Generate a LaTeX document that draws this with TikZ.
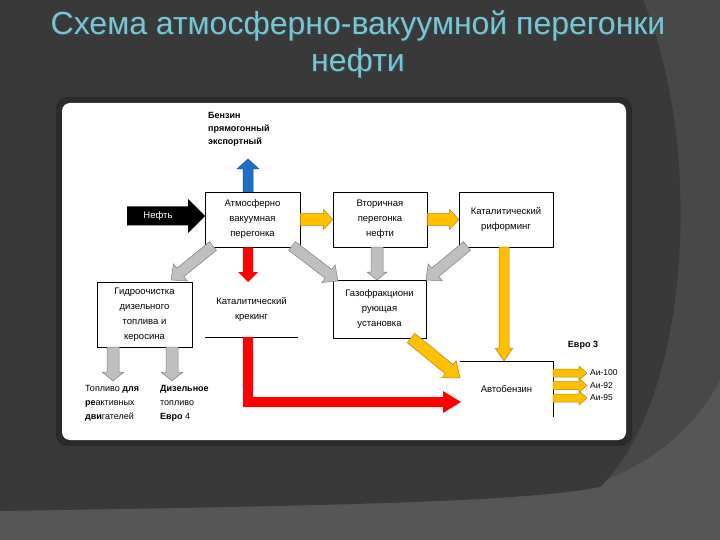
\documentclass[tikz,border=0pt]{standalone}
\usepackage{fontspec}
\setmainfont{Liberation Sans}
\usetikzlibrary{calc}
\definecolor{bgdark}{HTML}{393939}
\definecolor{bglight}{HTML}{484848}
\definecolor{bglight2}{HTML}{565656}
\definecolor{frame}{HTML}{2A2A2A}
\definecolor{titlec}{HTML}{7EC3D0}
\definecolor{titled}{HTML}{2C4F57}
\definecolor{yel}{HTML}{FFC000}
\definecolor{yeld}{HTML}{B8860B}
\definecolor{gry}{HTML}{BFBFBF}
\definecolor{gryd}{HTML}{808080}
\definecolor{blu}{HTML}{1F6FC6}
\definecolor{blud}{HTML}{174E8C}
\definecolor{redc}{HTML}{FF0000}
% block arrow: #1 style, #2 start, #3 end, #4 shaft half width, #5 head half width, #6 head length
\newcommand\blockarrow[6]{%
  \coordinate (bahd) at ($(#3)!#6!(#2)$);
  \path[#1] ($(#2)!#4!90:(#3)$) -- ($(bahd)!#4!90:(#3)$) -- ($(bahd)!#5!90:(#3)$) -- (#3)
    -- ($(bahd)!#5!-90:(#3)$) -- ($(bahd)!#4!-90:(#3)$) -- ($(#2)!#4!-90:(#3)$) -- cycle;
}
\tikzset{
  boxn/.style={draw=black, line width=0.6pt, fill=white, align=center, inner sep=0pt,
    font=\fontsize{9.5}{15}\selectfont},
  plainn/.style={align=center, inner sep=0pt, font=\fontsize{9.5}{15}\selectfont},
  labn/.style={align=left, inner sep=0pt, font=\fontsize{9}{14}\selectfont},
  yarrow/.style={fill=yel, draw=yeld, line width=0.5pt},
  garrow/.style={fill=gry, draw=gryd, line width=0.5pt},
  barrowc/.style={fill=blu, draw=blud, line width=0.5pt},
  rarrow/.style={fill=redc},
  karrow/.style={fill=black},
  titlen/.style={font=\fontsize{32}{37}\selectfont, align=center, inner sep=0pt},
}
\begin{document}
\begin{tikzpicture}[x=1pt,y=-1pt]
% background
\fill[bglight] (0,0) rectangle (720,540);
\fill[bglight2] (0,540) -- (0,505) .. controls (250,500) and (520,500) .. (600,482)
  .. controls (660,460) and (700,420) .. (720,380) -- (720,540) -- cycle;
\fill[bgdark] (0,0) -- (643,0) .. controls (705,150) and (690,400) .. (600,487)
  .. controls (520,503) and (300,506) .. (0,511) -- cycle;
\useasboundingbox (0,0) rectangle (720,540);
% title
\node[titlen, text=titled] at (359.2,45.2) {Схема атмосферно-вакуумной перегонки\\нефти};
\node[titlen, text=titlec] (title) at (358,44) {Схема атмосферно-вакуумной перегонки\\нефти};
% panel
\fill[frame, rounded corners=11pt] (56,97) rectangle (632,446);
\fill[white, rounded corners=8pt] (62,103) rectangle (626,440);

% boxes
\node[boxn, minimum width=95pt, minimum height=55pt] (atm) at (252.5,219.5) {Атмосферно\\вакуумная\\перегонка};
\node[boxn, minimum width=94pt, minimum height=55pt] (vtor) at (380,219.5) {Вторичная\\перегонка\\нефти};
\node[boxn, minimum width=94pt, minimum height=55pt] (rif) at (506,219.5) {Каталитический\\риформинг};
\node[boxn, minimum width=95pt, minimum height=65pt] (gid) at (144.5,314.5) {Гидроочистка\\дизельного\\топлива и\\керосина};
\node[plainn, minimum width=93pt, minimum height=55pt] (kk) at (251.5,309.5) {Каталитический\\крекинг};
\draw[line width=0.6pt] (kk.south west) -- (kk.south east);
\node[boxn, minimum width=93pt, minimum height=58pt] (gaz) at (379.5,309) {Газофракциони\\рующая\\установка};
\node[plainn, minimum width=93pt, minimum height=56pt] (avto) at (506.5,389) {Автобензин};
\draw[line width=0.6pt] (avto.north west) -- (avto.north east) -- (avto.south east);

% labels
\node[labn, font=\bfseries\fontsize{9}{13}\selectfont, anchor=north west] (benz) at (208,112) {Бензин\\прямогонный\\экспортный};
\node[labn, anchor=north west] (jet) at (85,385) {Топливо \textbf{для}\\\textbf{ре}активных\\\textbf{дви}гателей};
\node[labn, anchor=north west] (dies) at (160,385) {\textbf{Дизельное}\\топливо\\\textbf{Евро} 4};
\node[labn, font=\bfseries\fontsize{9}{14}\selectfont, anchor=center] (e3) at (583,345) {Евро 3};
\node[labn, font=\fontsize{8.5}{10}\selectfont, anchor=west] (a100) at (590,373) {Аи-100};
\node[labn, font=\fontsize{8.5}{10}\selectfont, anchor=west] (a92) at (590,385.5) {Аи-92};
\node[labn, font=\fontsize{8.5}{10}\selectfont, anchor=west] (a95) at (590,398) {Аи-95};

% arrow end points
\coordinate (neftS) at (127,216);
\coordinate (neftE) at (205,216);
\coordinate (bluS) at ($(atm.north)+(-4.5,0)$);
\coordinate (bluE) at (248,159);
\coordinate (redS) at ($(atm.south)+(-4.5,0)$);
\coordinate (redE) at (248,282);
\coordinate (g1S) at (213,246);
\coordinate (g1E) at (171,280);
\coordinate (g2S) at (292,246);
\coordinate (g2E) at (338,281);
\coordinate (g3S) at (377,247);
\coordinate (g3E) at (377,280);
\coordinate (g4S) at (467,246);
\coordinate (g4E) at (426,280);
\coordinate (ydS) at (504,247);
\coordinate (ydE) at (504,361);
\coordinate (ygS) at (411,338);
\coordinate (ygE) at (460,378);
\coordinate (h1S) at (113,347);
\coordinate (h1E) at (113,381);
\coordinate (h2S) at (172,347);
\coordinate (h2E) at (172,381);
\coordinate (s1S) at (553,373);
\coordinate (s1E) at (587,373);
\coordinate (s2S) at (553,385.5);
\coordinate (s2E) at (587,385.5);
\coordinate (s3S) at (553,398);
\coordinate (s3E) at (587,398);
\coordinate (rlS) at (248,337);
\coordinate (rlE) at (461,402);

% arrows
\blockarrow{karrow}{neftS}{neftE}{9.5pt}{17pt}{17pt}
\node[text=white, font=\fontsize{9.5}{11}\selectfont, inner sep=0pt] (neft) at (158,216) {Нефть};
\blockarrow{barrowc}{bluS}{bluE}{5pt}{11pt}{10pt}
\blockarrow{yarrow}{atm.east}{vtor.west}{6pt}{10pt}{9pt}
\blockarrow{yarrow}{vtor.east}{rif.west}{6pt}{10pt}{9pt}
\blockarrow{rarrow}{redS}{redE}{5pt}{10pt}{10pt}
\blockarrow{garrow}{g1S}{g1E}{5.5pt}{11pt}{12pt}
\blockarrow{garrow}{g2S}{g2E}{5.5pt}{11pt}{12pt}
\blockarrow{garrow}{g3S}{g3E}{6pt}{10pt}{8pt}
\blockarrow{garrow}{g4S}{g4E}{5.5pt}{11pt}{12pt}
\blockarrow{yarrow}{ydS}{ydE}{5pt}{9pt}{13pt}
\blockarrow{yarrow}{ygS}{ygE}{6pt}{11pt}{14pt}
\blockarrow{garrow}{h1S}{h1E}{6pt}{11pt}{9pt}
\blockarrow{garrow}{h2S}{h2E}{6pt}{11pt}{9pt}
\blockarrow{yarrow}{s1S}{s1E}{4pt}{7pt}{8pt}
\blockarrow{yarrow}{s2S}{s2E}{4pt}{7pt}{8pt}
\blockarrow{yarrow}{s3S}{s3E}{4pt}{7pt}{8pt}
% red L-shaped arrow
\fill[rarrow] ($(rlS)+(-5,0)$) -- ($(rlS)+(5,0)$) -- ($(rlS |- rlE)+(5,-5)$) -- ($(rlE)+(-18,-5)$)
  -- ($(rlE)+(-18,-11)$) -- (rlE) -- ($(rlE)+(-18,11)$) -- ($(rlE)+(-18,5)$)
  -- ($(rlS |- rlE)+(-5,5)$) -- cycle;
\end{tikzpicture}
\end{document}
